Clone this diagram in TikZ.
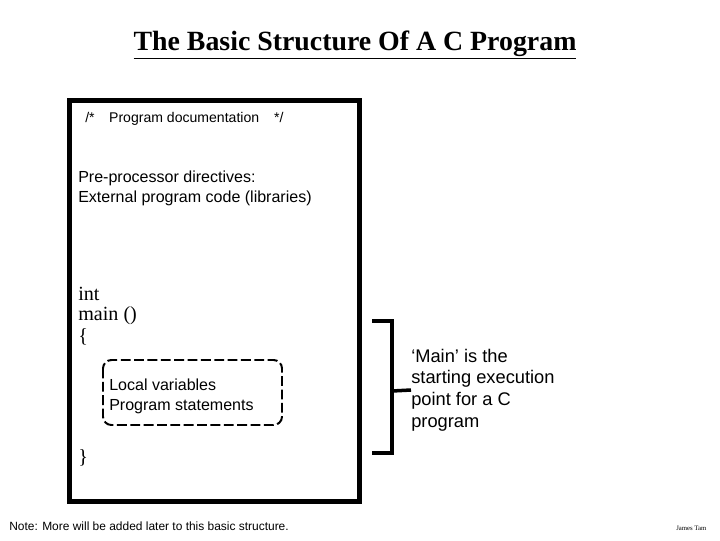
\documentclass[tikz,border=0pt]{standalone}
\usepackage{fontspec}
\setmainfont{Liberation Serif}
\setsansfont{Liberation Sans}
\usetikzlibrary{positioning,calc}

\tikzset{
  txt/.style={font=\sffamily\fontsize{11.4}{14.2}\selectfont, anchor=base west, inner sep=0pt, align=left},
  ctxt/.style={font=\fontsize{14.3}{14.2}\selectfont, anchor=base west, inner sep=0pt},
  note/.style={font=\sffamily\fontsize{13}{15.4}\selectfont, anchor=base west, inner sep=0pt, align=left},
}

\begin{document}
\begin{tikzpicture}[x=0.025cm, y=-0.025cm]
    \useasboundingbox (0,0) rectangle (720,540);

    % Title
    \node[font=\bfseries\fontsize{19.8}{22}\selectfont, inner sep=0pt] (title) at (355,45) {\underline{The Basic Structure Of A C Program}};

    % Program outline
    \draw[line width=3.5pt] (69.5,100.5) rectangle (359.5,501.5);

    % Documentation and pre-processor
    \node[txt, font=\sffamily\fontsize{10}{12}\selectfont] (doc) at (85,122) {/*\hspace{10.3pt}Program documentation\hspace{10.6pt}*/};
    \node[txt] (pre) at (78,202) {Pre-processor directives:\\External program code (libraries)};

    % Main function
    \node[ctxt] (int) at (78,300) {int};
    \node[ctxt] (main) at (78,320) {main ()};
    \node[ctxt] (open) at (78,342) {\{};
    \draw[line width=1.4pt, dash pattern=on 7pt off 2.5pt, rounded corners=6pt] (103,360) rectangle (282,425);
    \node[txt] (body) at (109,410) {Local variables\\Program statements};
    \node[ctxt] (close) at (78,463) {\}};

    % Bracket
    \coordinate (btop) at (392,321);
    \coordinate (bbot) at (392,453);
    \coordinate (bmid) at (392,391);
    \draw[line width=2.8pt] ($(btop)+(-20,0)$) -- (btop) -- (bbot) -- ($(bbot)+(-20,0)$);
    \draw[line width=2.5pt] (bmid) -- ++(19,-1) coordinate (btip);
    \node[note] (mainnote) at (411,427) {`Main' is the\\starting execution\\point for a C\\program};

    % Footer
    \node[font=\sffamily\fontsize{8.5}{9}\selectfont, anchor=base west, inner sep=0pt] (foot) at (9,530) {Note: More will be added later to this basic structure.};
    \node[font=\fontsize{4.8}{5}\selectfont, anchor=base west, inner sep=0pt] (author) at (676,530) {James Tam};
\end{tikzpicture}
\end{document}
